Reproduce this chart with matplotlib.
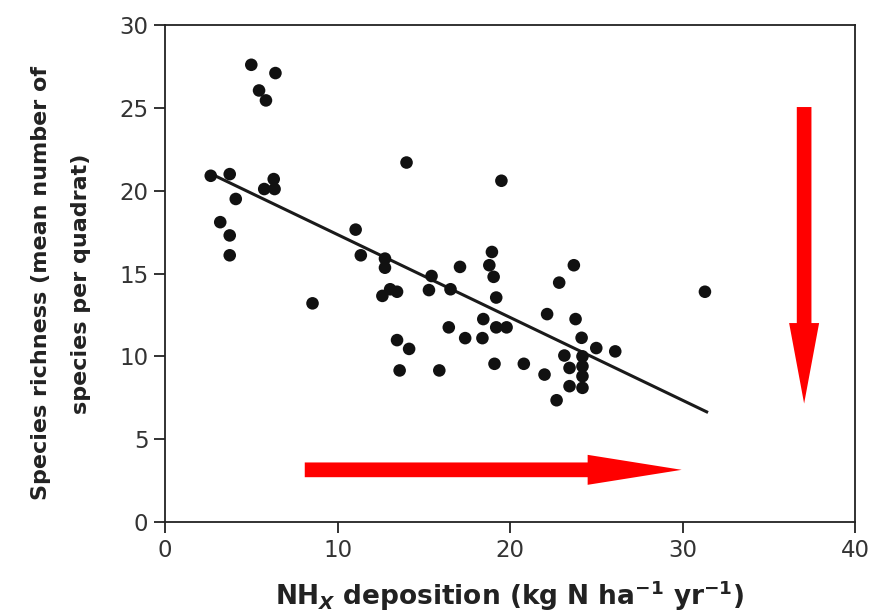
import numpy as np
import matplotlib
matplotlib.use("Agg")
import matplotlib.pyplot as plt

plt.rcParams['font.family'] = ['DejaVu Sans']
plt.rcParams['mathtext.fontset'] = 'custom'
plt.rcParams['mathtext.rm'] = 'DejaVu Sans:bold'
plt.rcParams['mathtext.it'] = 'DejaVu Sans:italic:bold'
plt.rcParams['mathtext.bf'] = 'DejaVu Sans:bold'

# NHx deposition (kg N / ha / yr) and species richness
nhx = [5.0, 6.4, 5.45, 5.85, 2.65, 3.75, 6.3, 5.75, 6.35, 4.1, 3.2, 3.75, 3.75,
       14.0, 19.5, 11.05, 11.35, 12.75, 12.75, 17.1, 18.95, 18.8, 19.05, 15.45,
       23.7, 22.85, 15.3, 16.55, 13.05, 13.45, 12.6, 19.2, 8.55, 18.45, 22.15,
       23.8, 16.45, 19.2, 19.8, 17.4, 18.4, 24.15, 13.45, 14.15, 25.0, 26.1,
       23.15, 24.2, 13.6, 15.9, 19.1, 20.8, 22.0, 23.45, 24.2, 24.2, 23.45,
       24.2, 22.7, 31.3]
richness = [27.6, 27.1, 26.05, 25.45, 20.9, 21.0, 20.7, 20.1, 20.1, 19.5, 18.1,
            17.3, 16.1, 21.7, 20.6, 17.65, 16.1, 15.9, 15.35, 15.4, 16.3, 15.5,
            14.8, 14.85, 15.5, 14.45, 14.0, 14.05, 14.05, 13.9, 13.65, 13.55,
            13.2, 12.25, 12.55, 12.25, 11.75, 11.75, 11.75, 11.1, 11.1, 11.12,
            10.98, 10.45, 10.5, 10.3, 10.05, 10.0, 9.15, 9.15, 9.55, 9.55, 8.9,
            9.3, 9.4, 8.8, 8.2, 8.1, 7.35, 13.9]

# regression line shown in the figure
fit_intercept = 22.35
fit_slope = -0.5

fig = plt.figure(figsize=(8.84, 6.15), dpi=100)
ax = fig.add_axes([0.1867, 0.1512, 0.7805, 0.8081])

ax.scatter(nhx, richness, s=82, color='#111111', edgecolors='none', zorder=3)

xl = np.array([min(nhx) + 0.25, max(nhx) + 0.1])
ax.plot(xl, fit_intercept + fit_slope * xl, color='#1a1a1a', lw=2.2, zorder=2)

# red arrows (annotation)
ax.arrow(8.1, 3.15, 21.85, 0, width=0.89, head_width=1.81, head_length=5.45,
         length_includes_head=True, color='#ff0000', lw=0, zorder=4)
ax.arrow(37.05, 25.05, 0, -17.9, width=0.85, head_width=1.74, head_length=4.86,
         length_includes_head=True, color='#ff0000', lw=0, zorder=4)

ax.set_xlim(0, 40)
ax.set_ylim(0, 30)
ax.set_xticks([0, 10, 20, 30, 40])
ax.set_yticks([0, 5, 10, 15, 20, 25, 30])

for s in ax.spines.values():
    s.set_linewidth(1.3)
    s.set_color('#222222')
ax.tick_params(direction='out', length=8, width=1.3, color='#222222',
               labelsize=16.5, labelcolor='#333333', pad=4)

ax.set_xlabel(r'NH$_{\mathit{X}}$ deposition (kg N ha$^{-1}$ yr$^{-1}$)',
              fontsize=19, fontweight='bold', color='#222222', labelpad=12)
ax.set_ylabel('Species richness (mean number of\nspecies per quadrat)',
              fontsize=16, fontweight='bold', color='#222222',
              linespacing=2.2)
ax.yaxis.set_label_coords(-0.108, 0.48)

fig.savefig('out.png', dpi=100)
